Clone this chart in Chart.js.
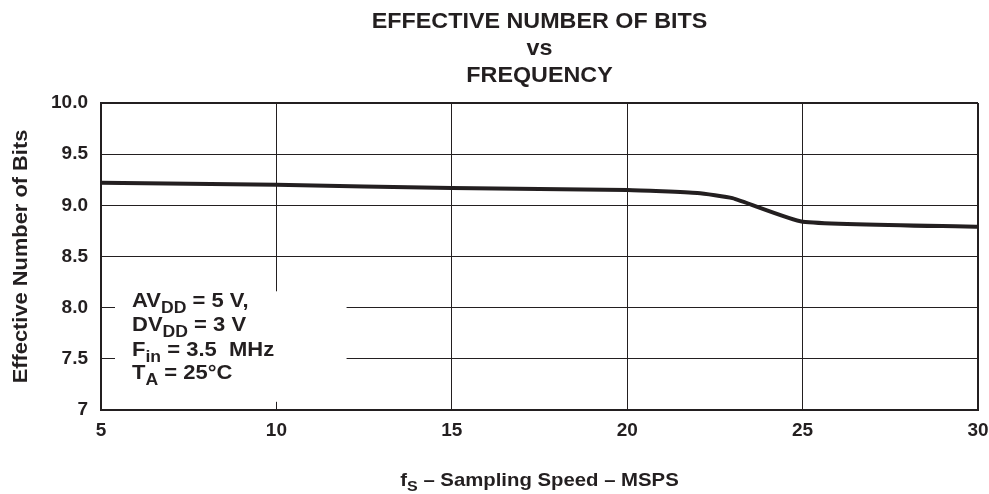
<!DOCTYPE html>
<html>
<head>
<meta charset="utf-8">
<script src="https://cdn.jsdelivr.net/npm/chart.js@4/dist/chart.umd.min.js"></script>
<style>
  html, body { margin: 0; padding: 0; background: #fff; }
  #wrap { width: 989px; height: 494px; }
</style>
</head>
<body>
<div id="wrap"><canvas id="c" width="989" height="494"></canvas></div>
<script>
// Sampling speed (MSPS) and effective number of bits
const samplingSpeed = [5, 10, 15, 20, 22, 23, 25, 30];
const enob = [9.22, 9.20, 9.17, 9.15, 9.12, 9.07, 8.84, 8.79];

const xTicks = [5, 10, 15, 20, 25, 30];
const yTickLabels = { 7: '7', 7.5: '7.5', 8: '8.0', 8.5: '8.5', 9: '9.0', 9.5: '9.5', 10: '10.0' };

const titleLines = ['EFFECTIVE NUMBER OF BITS', 'vs', 'FREQUENCY'];
const yTitle = 'Effective Number of Bits';
// text runs: [text, isSubscript]
const xTitle = [['f', false], ['S', true], [' \u2013 Sampling Speed \u2013 MSPS', false]];
const conditions = [
  [['AV', false], ['DD', true], [' = 5 V,', false]],
  [['DV', false], ['DD', true], [' = 3 V', false]],
  [['F', false], ['in', true], [' = 3.5  MHz', false]],
  [['T', false], ['A', true], [' = 25\u00b0C', false]]
];

const INK = '#231f20';
const FONT = '"Liberation Sans", Arial, Helvetica, sans-serif';

function runsWidth(ctx, runs, size, subSize) {
  let w = 0;
  for (const [t, sub] of runs) {
    ctx.font = 'bold ' + (sub ? subSize : size) + 'px ' + FONT;
    w += ctx.measureText(t).width;
  }
  return w;
}
function drawRuns(ctx, runs, x, y, size, subSize, subDrop) {
  for (const [t, sub] of runs) {
    ctx.font = 'bold ' + (sub ? subSize : size) + 'px ' + FONT;
    ctx.fillText(t, x, sub ? y + subDrop : y);
    x += ctx.measureText(t).width;
  }
}
// draw with a slight horizontal widening around an anchor point
function widened(ctx, ax, ay, sx, fn) {
  ctx.save();
  ctx.translate(ax, ay);
  ctx.scale(sx, 1);
  fn();
  ctx.restore();
}

const decorations = {
  id: 'decorations',
  beforeDatasetsDraw(chart) {
    // white panel for the operating conditions, over the grid
    const { ctx, scales } = chart;
    const x = scales.x, y = scales.y;
    ctx.save();
    ctx.fillStyle = '#fff';
    const left = x.getPixelForValue(5) + 14;
    const right = x.getPixelForValue(12.0);
    const top = y.getPixelForValue(8.16);
    const bottom = y.getPixelForValue(7.08);
    ctx.fillRect(left, top, right - left, bottom - top);
    ctx.restore();
  },
  afterDraw(chart) {
    const { ctx, chartArea, scales } = chart;
    ctx.save();
    ctx.fillStyle = INK;
    ctx.textBaseline = 'alphabetic';
    const cx = (chartArea.left + chartArea.right) / 2;

    // title
    ctx.textAlign = 'center';
    titleLines.forEach((t, i) => widened(ctx, cx, 28 + i * 27, 1.06, () => {
      ctx.font = 'bold 22px ' + FONT;
      ctx.fillText(t, 0, 0);
    }));

    // y axis title
    ctx.save();
    ctx.translate(27, (chartArea.top + chartArea.bottom) / 2);
    ctx.rotate(-Math.PI / 2);
    ctx.scale(1.04, 1);
    ctx.font = 'bold 21px ' + FONT;
    ctx.fillText(yTitle, 0, 0);
    ctx.restore();

    // x axis title
    ctx.textAlign = 'left';
    const w = runsWidth(ctx, xTitle, 19, 15) * 1.07;
    widened(ctx, cx - w / 2, 486, 1.07, () => drawRuns(ctx, xTitle, 0, 0, 19, 15, 5));

    // operating conditions
    const baseX = scales.x.getPixelForValue(5) + 31;
    const baselines = [8.01, 7.77, 7.53, 7.30].map(v => scales.y.getPixelForValue(v));
    conditions.forEach((runs, i) =>
      widened(ctx, baseX, baselines[i], 1.1, () => drawRuns(ctx, runs, 0, 0, 20, 16, 6)));
    ctx.restore();
  }
};

const edgeWidth = (ctx, edgeValue) => (ctx.tick && ctx.tick.value === edgeValue ? 2 : 1);

new Chart(document.getElementById('c'), {
  type: 'line',
  data: {
    datasets: [{
      data: samplingSpeed.map((s, i) => ({ x: s, y: enob[i] })),
      borderColor: INK,
      borderWidth: 4,
      pointRadius: 0,
      tension: 0.15,
      fill: false
    }]
  },
  options: {
    responsive: false,
    animation: false,
    layout: { padding: { top: 103, right: 11, left: 0, bottom: 0 } },
    plugins: { legend: { display: false }, title: { display: false }, tooltip: { enabled: false } },
    scales: {
      x: {
        type: 'linear',
        min: 5, max: 30,
        afterFit(scale) {
          scale.height = 84;
          scale.paddingLeft = 0;
          scale.paddingRight = 0;
        },
        afterBuildTicks(scale) { scale.ticks = xTicks.map(v => ({ value: v })); },
        ticks: {
          color: INK, padding: 9,
          font: { family: FONT, size: 19, weight: 'bold' },
          maxRotation: 0
        },
        grid: { color: INK, lineWidth: c => edgeWidth(c, 30), drawTicks: false },
        border: { color: INK, width: 2 }
      },
      y: {
        min: 7, max: 10,
        afterFit(scale) {
          scale.width = 101;
          scale.paddingTop = 0;
          scale.paddingBottom = 0;
        },
        ticks: {
          stepSize: 0.5, color: INK, padding: 13,
          font: { family: FONT, size: 19, weight: 'bold' },
          callback: v => yTickLabels[v]
        },
        grid: { color: INK, lineWidth: c => edgeWidth(c, 10), drawTicks: false },
        border: { color: INK, width: 2 }
      }
    }
  },
  plugins: [decorations]
});
</script>
</body>
</html>
